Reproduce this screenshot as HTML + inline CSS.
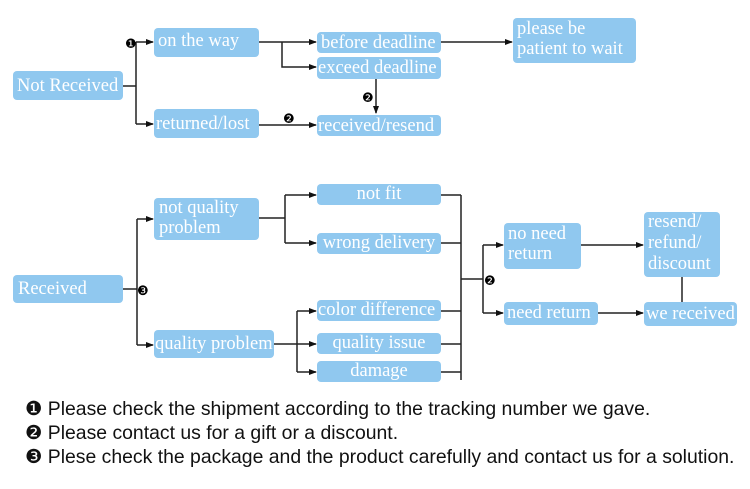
<!DOCTYPE html>
<html><head><meta charset="utf-8"><style>
body{margin:0;background:#fff;width:750px;height:489px;overflow:hidden;position:relative;font-family:"Liberation Serif",serif}
.b{position:absolute;background:#90c8ef;border-radius:4px;color:#fff;font-size:18.5px;line-height:20px;box-sizing:border-box;padding:0 3px;white-space:nowrap}
svg{position:absolute;left:0;top:0}
.f{position:absolute;left:25px;font-family:"Liberation Sans","DejaVu Sans",sans-serif;font-size:19.4px;color:#111;white-space:nowrap}
</style></head><body>
<svg width="750" height="489">
<defs><marker id="a" markerWidth="8" markerHeight="8" refX="7" refY="4" orient="auto" markerUnits="userSpaceOnUse"><path d="M0,1 L8,4 L0,7z" fill="#111"/></marker></defs>
<g stroke="#222" stroke-width="1.5" fill="none">
<path d="M123,86H136M136,42V124"/>
<path d="M136,42H153" marker-end="url(#a)"/><path d="M136,124H153" marker-end="url(#a)"/>
<path d="M259,42H316" marker-end="url(#a)"/><path d="M282,42V67H316" marker-end="url(#a)"/>
<path d="M441,42H512" marker-end="url(#a)"/>
<path d="M376,79V113" marker-end="url(#a)"/>
<path d="M259,125H316" marker-end="url(#a)"/>
<path d="M123,289H137M137,219V345"/>
<path d="M137,219H153" marker-end="url(#a)"/><path d="M137,345H153" marker-end="url(#a)"/>
<path d="M259,218H285M285,195V243"/>
<path d="M285,195H316" marker-end="url(#a)"/><path d="M285,243H316" marker-end="url(#a)"/>
<path d="M274,344H316" marker-end="url(#a)"/><path d="M297,311V372"/>
<path d="M297,311H316" marker-end="url(#a)"/><path d="M297,372H316" marker-end="url(#a)"/>
<path d="M441,195H461M441,243H461M441,311H461M441,344H461M441,372H461M461,195V380M461,279H483M483,245V313"/>
<path d="M483,245H503" marker-end="url(#a)"/><path d="M483,313H503" marker-end="url(#a)"/>
<path d="M581,245H643" marker-end="url(#a)"/><path d="M598,313H643" marker-end="url(#a)"/>
<path d="M682,277V302"/>
</g>
<g font-family="DejaVu Sans" font-size="13" fill="#000">
<text x="125" y="48">❶</text><text x="362" y="102">❷</text><text x="283" y="123">❷</text>
<text x="137" y="295">❸</text><text x="484" y="285">❷</text>
</g>
</svg>
<div class="b" style="left:13px;top:71px;width:110px;height:29px;line-height:30px;padding:0 4px">Not Received</div>
<div class="b" style="left:154px;top:28px;width:105px;height:29px;line-height:27px;padding:0 4px">on the way</div>
<div class="b" style="left:154px;top:109px;width:105px;height:29px;line-height:30px;padding:0 2px">returned/lost</div>
<div class="b" style="left:317px;top:32px;width:124px;height:21px;line-height:22px;padding:0 4px">before deadline</div>
<div class="b" style="left:317px;top:57px;width:124px;height:22px;line-height:22px;padding:0 1px">exceed deadline</div>
<div class="b" style="left:317px;top:115px;width:124px;height:21px;line-height:22px;padding:0 1px">received/resend</div>
<div class="b" style="left:513px;top:18px;width:123px;height:45px;padding:1px 4px">please be<br>patient to wait</div>
<div class="b" style="left:13px;top:275px;width:110px;height:28px;line-height:28px;padding:0 5px">Received</div>
<div class="b" style="left:154px;top:198px;width:105px;height:42px;padding:0 5px">not quality<br>problem</div>
<div class="b" style="left:154px;top:330px;width:120px;height:28px;line-height:29px;padding:0 1px">quality problem</div>
<div class="b" style="left:317px;top:184px;width:124px;height:21px;line-height:20px;text-align:center">not fit</div>
<div class="b" style="left:317px;top:233px;width:124px;height:21px;line-height:21px;text-align:center">wrong delivery</div>
<div class="b" style="left:317px;top:300px;width:124px;height:21px;line-height:21px;padding:0 1px">color difference</div>
<div class="b" style="left:317px;top:333px;width:124px;height:21px;line-height:21px;text-align:center">quality issue</div>
<div class="b" style="left:317px;top:361px;width:124px;height:21px;line-height:21px;text-align:center">damage</div>
<div class="b" style="left:504px;top:223px;width:77px;height:46px;padding:1px 4px">no need<br>return</div>
<div class="b" style="left:504px;top:302px;width:94px;height:23px;line-height:23px">need return</div>
<div class="b" style="left:644px;top:212px;width:76px;height:65px;padding:0 4px;line-height:21px">resend/<br>refund/<br>discount</div>
<div class="b" style="left:644px;top:302px;width:93px;height:24px;line-height:24px;padding:0 2px">we received</div>
<div class="f" style="top:397px"><span style="font-family:'DejaVu Sans'">❶</span> Please check the shipment according to the tracking number we gave.</div>
<div class="f" style="top:421px"><span style="font-family:'DejaVu Sans'">❷</span> Please contact us for a gift or a discount.</div>
<div class="f" style="top:445px"><span style="font-family:'DejaVu Sans'">❸</span> Plese check the package and the product carefully and contact us for a solution.</div>
</body></html>
